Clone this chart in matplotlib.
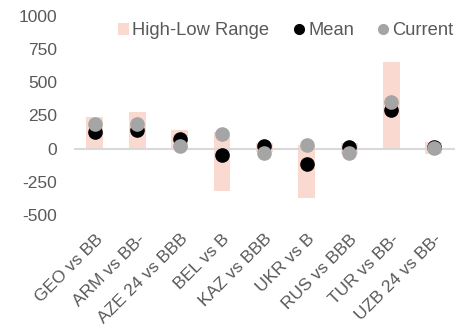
import matplotlib.pyplot as plt
from matplotlib.patches import Patch
from matplotlib.lines import Line2D
import numpy as np

plt.rcParams['font.family'] = ['Liberation Sans', 'DejaVu Sans']
plt.rcParams['axes.unicode_minus'] = False

# spreads vs rating peers
labels = ["GEO vs BB", "ARM vs BB-", "AZE 24 vs BBB", "BEL vs B", "KAZ vs BBB",
          "UKR vs B", "RUS vs BBB", "TUR vs BB-", "UZB 24 vs BB-"]
high = [238, 273, 138, 125, 42, 30, 42, 651, 50]
low = [5, 5, 5, -319, -25, -371, -38, 0, -38]
mean = [125, 143, 75, -50, 20, -120, 12, 288, 10]
current = [183, 183, 20, 113, -30, 25, -35, 350, 5]

text_col = "#595959"
range_col = "#fad9d0"
mean_col = "#000000"
cur_col = "#a5a5a5"

fig = plt.figure(figsize=(4.7, 3.27), dpi=100)
ax = fig.add_axes([0.157, 0.343, 0.811, 0.608])

x = np.arange(len(labels))
heights = np.array(high) - np.array(low)
ax.bar(x, heights, bottom=low, width=0.4, color=range_col, zorder=1)
ax.axhline(0, color="#d9d9d9", lw=1.5, zorder=2)
ax.plot(x, mean, "o", color=mean_col, ms=9.5, zorder=3)
ax.plot(x, current, "o", color=cur_col, ms=9.5, zorder=4)

ax.set_xlim(-0.5, len(labels) - 0.5)
ax.set_ylim(-500, 1000)
ax.set_yticks(range(-500, 1001, 250))
ax.set_xticks(x)
ax.set_xticklabels(labels, rotation=45, ha="right", va="top",
                   rotation_mode="anchor")

ax.tick_params(axis="both", length=0, colors=text_col, labelsize=12.5)
ax.tick_params(axis="y", pad=12)
ax.tick_params(axis="x", pad=12)
for s in ax.spines.values():
    s.set_visible(False)

handles = [
    Patch(facecolor=range_col, edgecolor="none"),
    Line2D([], [], marker="o", ls="none", color=mean_col, ms=7),
    Line2D([], [], marker="o", ls="none", color=cur_col, ms=7),
]
ax.legend(handles, ["High-Low Range", "Mean", "Current"], ncol=3, frameon=False,
          loc="center", bbox_to_anchor=(0.556, 0.925), fontsize=13.2,
          labelcolor=text_col, handlelength=0.6, handleheight=0.6,
          handletextpad=0.2, columnspacing=1.3, borderpad=0)

fig.savefig("out.png", dpi=100)
